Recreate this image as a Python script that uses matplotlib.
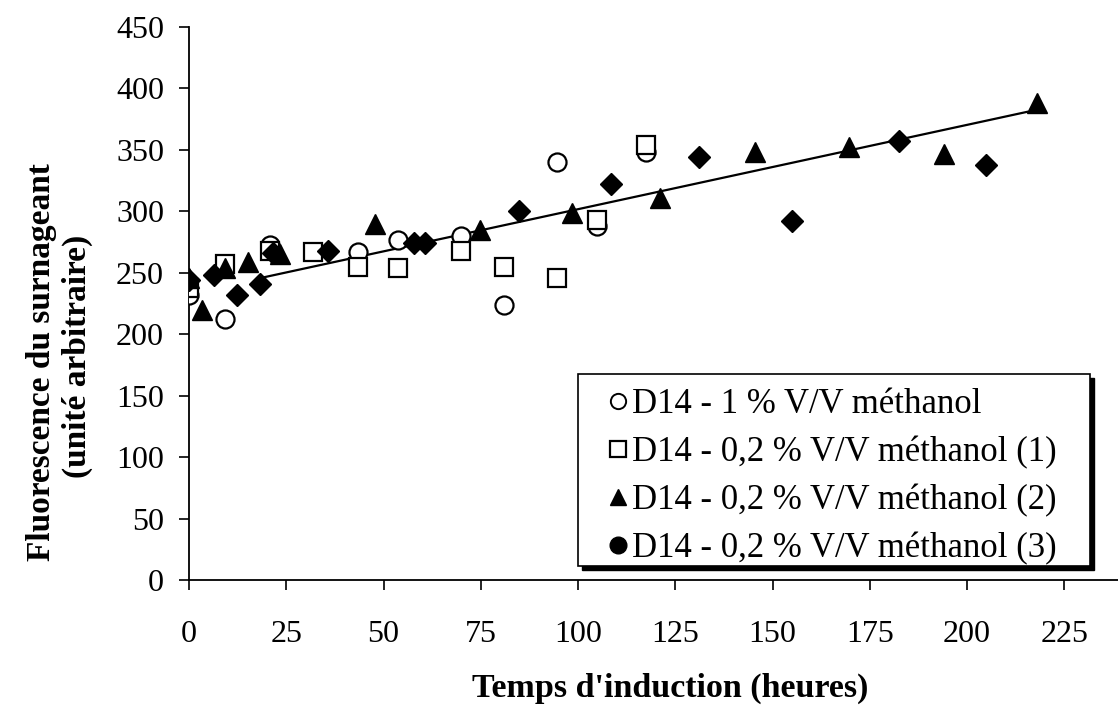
import matplotlib
matplotlib.use("Agg")
import matplotlib.pyplot as plt
from matplotlib.lines import Line2D
from matplotlib.patches import Rectangle

# ---- data ----
s1_x = [0, 9.3, 20.7, 43.4, 53.7, 70, 80.9, 94.7, 105, 117.4]
s1_y = [232, 212, 273, 267, 277, 280, 224, 340, 288, 348]

s2_x = [0, 9.3, 20.7, 32, 43.4, 53.7, 70, 80.9, 94.7, 105, 117.4]
s2_y = [238, 257, 268, 267, 255, 254, 268, 255, 246, 293, 354]

s3_x = [0, 3.4, 9.3, 15.2, 23.4, 47.8, 74.7, 98.4, 121, 145.5, 169.6, 194, 218]
s3_y = [246, 220, 254, 259, 265, 290, 285, 299, 311, 348, 352, 347, 388]

s4_x = [0, 6.3, 12.4, 18.3, 21.7, 35.8, 57.8, 60.7, 84.8, 108.5, 131, 155, 182.4, 204.8]
s4_y = [244, 248, 232, 241, 266, 268, 274, 274, 300, 322, 344, 292, 357, 338]

trend_x = [19.5, 215.5]
trend_y = [246.5, 381]

labels = ["D14 - 1 % V/V méthanol",
          "D14 - 0,2 % V/V méthanol (1)",
          "D14 - 0,2 % V/V méthanol (2)",
          "D14 - 0,2 % V/V méthanol (3)"]

x_ticks = [0, 25, 50, 75, 100, 125, 150, 175, 200, 225]
y_ticks = [0, 50, 100, 150, 200, 250, 300, 350, 400, 450]

xlabel = "Temps d'induction (heures)"
ylabel_1 = "Fluorescence du surnageant"
ylabel_2 = "(unité arbitraire)"

plt.rcParams['font.family'] = ['Liberation Serif', 'DejaVu Serif']

W, H = 1118, 706
fig = plt.figure(figsize=(W / 100, H / 100), dpi=100)
ax = fig.add_axes([189 / W, 1 - 580 / H, (W - 189) / W, (580 - 27) / H])

def fx(px):
    return px / W

def fy(py):
    return 1 - py / H

ms = 13
ax.plot(trend_x, trend_y, color='black', lw=1.6, zorder=2)
ax.plot(s1_x, s1_y, ls='none', marker='o', ms=ms, mfc='white', mec='black', mew=1.6, zorder=3)
ax.plot(s2_x, s2_y, ls='none', marker='s', ms=ms, mfc='white', mec='black', mew=1.6, zorder=3)
ax.plot(s3_x, s3_y, ls='none', marker='^', ms=15, mfc='black', mec='black', zorder=4)
ax.plot(s4_x, s4_y, ls='none', marker='D', ms=ms - 2, mfc='black', mec='black', zorder=4)

ax.set_xlim(0, 238.8)
ax.set_ylim(0, 450)
ax.set_xticks(x_ticks)
ax.set_yticks(y_ticks)
ax.tick_params(axis='both', direction='out', length=7, width=1.2, labelsize=23, colors='black')
ax.tick_params(axis='x', pad=22)
ax.tick_params(axis='y', pad=11)
for s in ['top', 'right']:
    ax.spines[s].set_visible(False)
for s in ['left', 'bottom']:
    ax.spines[s].set_linewidth(1.3)

fig.text(fx(670), fy(688), xlabel, fontsize=24.5, fontweight='bold', ha='center', va='center')
fig.text(fx(42), fy(362), ylabel_1, fontsize=24, fontweight='bold', rotation=90, ha='center', va='center')
fig.text(fx(77), fy(356), ylabel_2, fontsize=24, fontweight='bold', rotation=90, ha='center', va='center')

# legend frame with shadow (Excel style)
bx0, by0, bx1, by1 = 578, 374, 1090, 566
fig.add_artist(Rectangle((fx(bx0 + 4), fy(by1 + 4)), (bx1 - bx0) / W, (by1 - by0) / H,
                         transform=fig.transFigure, facecolor='black', edgecolor='black', zorder=5))
fig.add_artist(Rectangle((fx(bx0), fy(by1)), (bx1 - bx0) / W, (by1 - by0) / H,
                         transform=fig.transFigure, facecolor='white', edgecolor='black', lw=1.2, zorder=6))

handles = [
    Line2D([], [], ls='none', marker='o', ms=11, mfc='white', mec='black', mew=1.4),
    Line2D([], [], ls='none', marker='s', ms=11, mfc='white', mec='black', mew=1.6),
    Line2D([], [], ls='none', marker='^', ms=12, mfc='black', mec='black'),
    Line2D([], [], ls='none', marker='o', ms=12, mfc='black', mec='black'),
]
leg = fig.legend(handles, labels, loc='upper left',
                 bbox_to_anchor=(fx(609), fy(388)),
                 fontsize=25, frameon=False,
                 handlelength=0.5, handletextpad=0.15, borderpad=0, labelspacing=0.43,
                 borderaxespad=0)
leg.set_zorder(7)

fig.savefig('out.png', dpi=100, facecolor='white')
